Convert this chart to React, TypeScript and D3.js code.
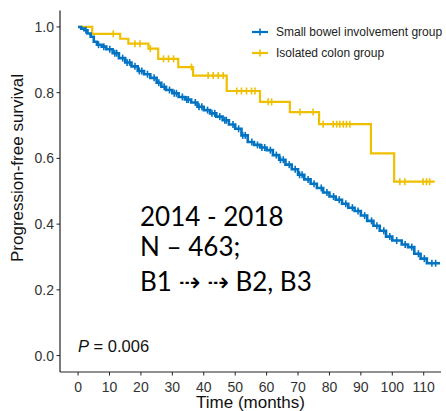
import { useMemo } from "react";
import * as d3 from "d3";

const WIDTH = 446;
const HEIGHT = 411;
const LEFT = 60;
const RIGHT = 441;
const TOP = 10.5;
const BOTTOM = 372;

const seriesNames = ["Small bowel involvement group", "Isolated colon group"];
const seriesColors = ["#0073C2", "#EFC000"];

const xTicks = [0, 10, 20, 30, 40, 50, 60, 70, 80, 90, 100, 110];
const yTicks = [0, 0.2, 0.4, 0.6, 0.8, 1.0];

// small bowel involvement group
const bowelTime = [0, 1, 2, 3, 4, 5, 6, 7.5, 9, 11, 13, 15, 17, 19, 21, 23, 25, 26.5, 28, 30, 32, 34, 36, 38, 40, 42, 44, 46, 48, 50, 52, 54, 56, 58, 60, 62, 64, 66, 68, 70, 72, 74, 76, 78, 80, 82, 84, 86, 88, 90, 92, 94, 96, 98, 100, 103, 105, 107, 109, 111];
const bowelSurv = [1.0, 0.995, 0.99, 0.98, 0.97, 0.955, 0.946, 0.94, 0.932, 0.92, 0.905, 0.892, 0.88, 0.866, 0.856, 0.845, 0.83, 0.818, 0.808, 0.798, 0.787, 0.779, 0.77, 0.757, 0.747, 0.737, 0.727, 0.716, 0.703, 0.69, 0.67, 0.65, 0.641, 0.633, 0.625, 0.61, 0.596, 0.581, 0.567, 0.55, 0.536, 0.523, 0.51, 0.496, 0.484, 0.474, 0.462, 0.45, 0.44, 0.426, 0.41, 0.395, 0.38, 0.362, 0.35, 0.338, 0.33, 0.31, 0.295, 0.281];
const bowelCensor = [2.5, 6.5, 8.2, 10.1, 11.7, 12.3, 14.2, 15.6, 16.4, 18.1, 19.5, 20.3, 22.1, 24.2, 25.7, 27.4, 29.1, 30.6, 31.3, 33.2, 34.6, 35.1, 37.3, 38.5, 39.4, 41.2, 42.6, 43.5, 45.1, 46.7, 47.2, 49.3, 51.1, 52.4, 53.2, 55.3, 57.1, 58.5, 59.4, 61.2, 63.1, 64.4, 65.3, 67.2, 69.1, 70.5, 71.3, 73.2, 75.1, 77.4, 79.2, 81.3, 83.1, 85.2, 87.3, 89.1, 91.2, 93.4, 95.1, 97.3, 99.2, 101.4, 104.1, 106.2, 108.3, 110.2, 112.6, 113.8];
const bowelEnd = 115.2;

// isolated colon group
const colonTime = [0, 4.5, 13.4, 16, 22.4, 25.5, 31.9, 36.6, 47.3, 57.9, 67.4, 76.7, 93.2, 100.6];
const colonSurv = [1.0, 0.979, 0.964, 0.949, 0.934, 0.903, 0.878, 0.852, 0.805, 0.772, 0.741, 0.704, 0.615, 0.529];
const colonCensor = [11.2, 18.1, 19.7, 23, 27.2, 28.8, 30.4, 36.1, 41.4, 43, 44.6, 46.2, 50.5, 52, 53.6, 55.2, 56.3, 60.5, 61.6, 70.6, 74.8, 78, 81.2, 82.3, 83.3, 84.4, 85.4, 86.5, 102.4, 104, 109.8, 110.9, 111.9];
const colonEnd = 113.5;

const noteLines = ["2014 - 2018", "N \u2013 463;", "B1 \u21e2 \u21e2 B2, B3"];

function KmCurve({ times, surv, censor, end, color, width, x, y }) {
    const line = d3.line().curve(d3.curveStepAfter).x((d) => x(d[0])).y((d) => y(d[1]));
    const pts = times.map((t, i) => [t, surv[i]]);
    pts.push([end, surv[surv.length - 1]]);
    const marks = censor.map((t, i) => {
        const idx = d3.bisectRight(times, t) - 1;
        const s = surv[Math.max(0, idx)];
        return (
            <line key={i} x1={x(t)} x2={x(t)} y1={y(s) - 3.5} y2={y(s) + 3.5} stroke={color} strokeWidth={1.6} />
        );
    });
    return (
        <g>
            <path d={line(pts)} fill="none" stroke={color} strokeWidth={width} />
            {marks}
        </g>
    );
}

export default function App() {
    const x = useMemo(() => d3.scaleLinear().domain([-5.75, 115.5]).range([LEFT, RIGHT]), []);
    const y = useMemo(() => d3.scaleLinear().domain([-0.05, 1.05]).range([BOTTOM, TOP]), []);
    const fmt = d3.format(".1f");

    return (
        <svg width={WIDTH} height={HEIGHT} style={{ position: "absolute", left: 0, top: 0, background: "#fff" }}
            fontFamily="'Liberation Sans', Arial, sans-serif">
            <KmCurve times={colonTime} surv={colonSurv} censor={colonCensor} end={colonEnd} color={seriesColors[1]} width={2.2} x={x} y={y} />
            <KmCurve times={bowelTime} surv={bowelSurv} censor={bowelCensor} end={bowelEnd} color={seriesColors[0]} width={2.6} x={x} y={y} />

            {/* axes */}
            <line x1={LEFT} x2={LEFT} y1={TOP} y2={BOTTOM} stroke="#222" strokeWidth={1.2} />
            <line x1={LEFT} x2={RIGHT} y1={BOTTOM} y2={BOTTOM} stroke="#222" strokeWidth={1.2} />
            {yTicks.map((v) => (
                <g key={v}>
                    <line x1={LEFT - 3.5} x2={LEFT} y1={y(v)} y2={y(v)} stroke="#222" />
                    <text x={LEFT - 6} y={y(v)} dy="0.36em" textAnchor="end" fontSize={14} fill="#333">{fmt(v)}</text>
                </g>
            ))}
            {xTicks.map((v) => (
                <g key={v}>
                    <line x1={x(v)} x2={x(v)} y1={BOTTOM} y2={BOTTOM + 3.5} stroke="#222" />
                    <text x={x(v)} y={391.5} textAnchor="middle" fontSize={14} fill="#333">{v}</text>
                </g>
            ))}
            <text x={(LEFT + RIGHT) / 2} y={408} textAnchor="middle" fontSize={17} fill="#111">Time (months)</text>
            <text transform="translate(22.5,168) rotate(-90)" textAnchor="middle" fontSize={17} fill="#111">Progression-free survival</text>

            {/* legend */}
            {seriesNames.map((name, i) => (
                <g key={name} transform={`translate(252,${32 + i * 21})`}>
                    <line x1={0} x2={16} y1={0} y2={0} stroke={seriesColors[i]} strokeWidth={2.2} />
                    <line x1={8} x2={8} y1={-3.5} y2={3.5} stroke={seriesColors[i]} strokeWidth={1.6} />
                    <text x={24} y={0} dy="0.35em" fontSize={12} fill="#222">{name}</text>
                </g>
            ))}

            <text x={78} y={352} fontSize={16.5} fill="#111">
                <tspan fontStyle="italic">P</tspan> = 0.006
            </text>

            <g fontFamily="Lato, 'DejaVu Sans', sans-serif" fontSize={26} fill="#000">
                {noteLines.map((s, i) => (
                    <text key={i} x={140} y={[226, 256, 291][i]}>{s}</text>
                ))}
            </g>
        </svg>
    );
}
